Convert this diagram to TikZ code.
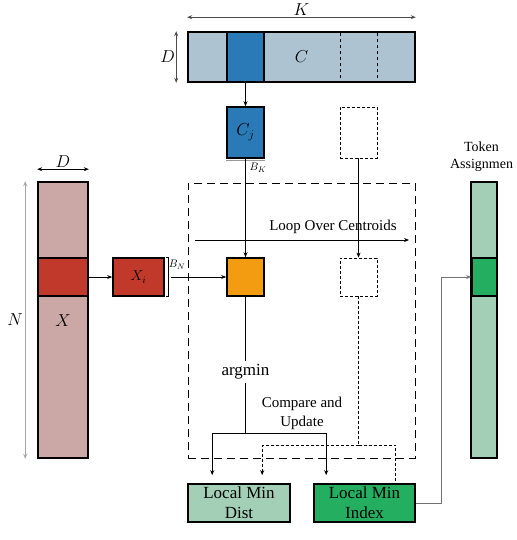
\documentclass[tikz,border=0pt]{standalone}
\usepackage{fontspec}
\setmainfont{Liberation Serif}
\usetikzlibrary{arrows.meta}
\definecolor{cbar}{HTML}{AEC3D1}
\definecolor{cblue}{HTML}{2A7AB8}
\definecolor{xbar}{HTML}{CBA8A5}
\definecolor{xred}{HTML}{C0392B}
\definecolor{corange}{HTML}{F39C12}
\definecolor{lgreen}{HTML}{A3CFB6}
\definecolor{dgreen}{HTML}{24AE60}

\begin{document}
\begin{tikzpicture}[x=1pt, y=-1pt, >={Stealth[length=5pt, width=4pt]},
    blk/.style={draw, line width=1.6pt, inner sep=0pt},
    ghost/.style={draw, dash pattern=on 3pt off 2pt, line width=0.8pt, inner sep=0pt},
    conn/.style={line width=0.8pt},
    dots/.style={line width=0.8pt, dash pattern=on 3pt off 2pt},
    lbl/.style={font=\fontsize{15}{17}\selectfont, align=center},
    big/.style={font=\fontsize{17}{19}\selectfont, align=center},
    mth/.style={font=\fontsize{18}{20}\selectfont, text=black},
    sml/.style={font=\fontsize{11}{12}\selectfont, inner sep=0pt}]
  \useasboundingbox (0,0) rectangle (516,540);
  \node[blk, fill=cbar, minimum width=227pt, minimum height=50pt, mth] (C) at (301.5,57) {$C$};
  \node[blk, fill=cblue, minimum width=37pt, minimum height=50pt] (cseg) at (245.5,57) {};
  \draw[dashed, line width=0.8pt] (340,33) -- (340,81);
  \draw[dashed, line width=0.8pt] (377,33) -- (377,81);
  \draw[<->, conn, black!70] ([yshift=14pt]C.north west) -- node[above, mth, inner sep=1pt]{$K$} ([yshift=14pt]C.north east);
  \draw[<->, conn, black!70] ([xshift=-11pt]C.north west) -- node[left, mth, inner sep=1pt]{$D$} ([xshift=-11pt]C.south west);
  \node[blk, fill=cblue, minimum width=37pt, minimum height=51pt, mth] (cj) at (245.5,132.5) {$C_j$};
  \draw[conn, black!40] ([yshift=-2pt]cj.south west) -- ([yshift=-2pt]cj.south east);
  \node[sml] (bk) at (258,168) {$B_K$};
  \node[ghost, minimum width=37pt, minimum height=51pt] (dc1) at (358.5,132.5) {};
  \node[draw, dash pattern=on 8pt off 5pt, line width=0.9pt, minimum width=227pt, minimum height=275pt] (loop) at (301.5,320.5) {};
  \node[blk, fill=corange, minimum width=37pt, minimum height=38pt] (ora) at (245.5,277) {};
  \node[ghost, minimum width=37pt, minimum height=38pt] (dc2) at (358.5,277) {};
  \draw[->, conn] (cseg) -- (cj);
  \draw[->, conn] (cj) -- (ora);
  \draw[->, conn] (dc1) -- (dc2);
  \coordinate (ls) at (195,240);
  \coordinate (le) at (409,240);
  \draw[->, conn] (ls) -- (le);
  \node[lbl] (loopl) at (333,227) {Loop Over Centroids};
  \node[blk, fill=xbar, minimum width=50pt, minimum height=276pt] (X) at (63,320) {};
  \node[blk, fill=xred, minimum width=50pt, minimum height=38pt] (xseg) at (63,277) {};
  \node[mth] (xl) at (63,321) {$X$};
  \draw[<->, conn] ([yshift=12pt]X.north west) -- node[above, mth, inner sep=1pt]{$D$} ([yshift=12pt]X.north east);
  \draw[<->, conn, black!35] ([xshift=-12pt]X.north west) -- ([xshift=-12pt]X.south west);
  \node[mth] (nl) at (15,320) {$N$};
  \node[blk, fill=xred, minimum width=51pt, minimum height=38pt, font=\fontsize{14}{16}\selectfont] (xi) at (138.5,277) {$X_i$};
  \draw[{Bar[width=3pt]}-{Bar[width=3pt]}, line width=0.5pt] ([xshift=3pt]xi.north east) -- ([xshift=3pt]xi.south east);
  \node[sml] (bn) at (177,265) {$B_N$};
  \draw[->, conn] (xseg) -- (xi);
  \draw[->, conn] ([xshift=6pt]xi.east) -- (ora);
  \node[big] (argmin) at (245.5,372) {argmin};
  \node[lbl, font=\fontsize{15}{19}\selectfont] (cmp) at (302,413) {Compare and\\Update};
  \node[blk, fill=lgreen, minimum width=102pt, minimum height=38pt, big, font=\fontsize{17}{20}\selectfont] (dist) at (239,503) {Local Min\\Dist};
  \node[blk, fill=dgreen, minimum width=101pt, minimum height=38pt, big, font=\fontsize{17}{20}\selectfont] (idx) at (364.5,503) {Local Min\\Index};
  \coordinate (br) at (245.5,433);
  \coordinate (mg) at (358.5,445);
  \draw[conn] (ora) -- (argmin);
  \draw[conn] (argmin) -- (br);
  \draw[->, conn, shorten >=8pt] (br) -| ([xshift=25pt]dist.north west);
  \draw[->, conn, shorten >=8pt] (br) -| ([xshift=13pt]idx.north west);
  \draw[dots] (dc2) -- (mg);
  \draw[->, dots, shorten >=8pt] (mg) -| ([xshift=75pt]dist.north west);
  \draw[dots] (mg) -| ([xshift=82pt]idx.north west);
  \node[blk, fill=lgreen, minimum width=26pt, minimum height=276pt] (tok) at (484,320) {};
  \node[blk, fill=dgreen, minimum width=25pt, minimum height=38pt] (tseg) at (484.5,277) {};
  \node[lbl, font=\fontsize{14}{17}\selectfont, inner sep=1pt] (tokl) at (481.5,157) {Token\\Assignmen};
  \draw[->, conn, black!55] (idx.east) -- ++(26,0) |- (tseg);
\end{tikzpicture}
\end{document}
